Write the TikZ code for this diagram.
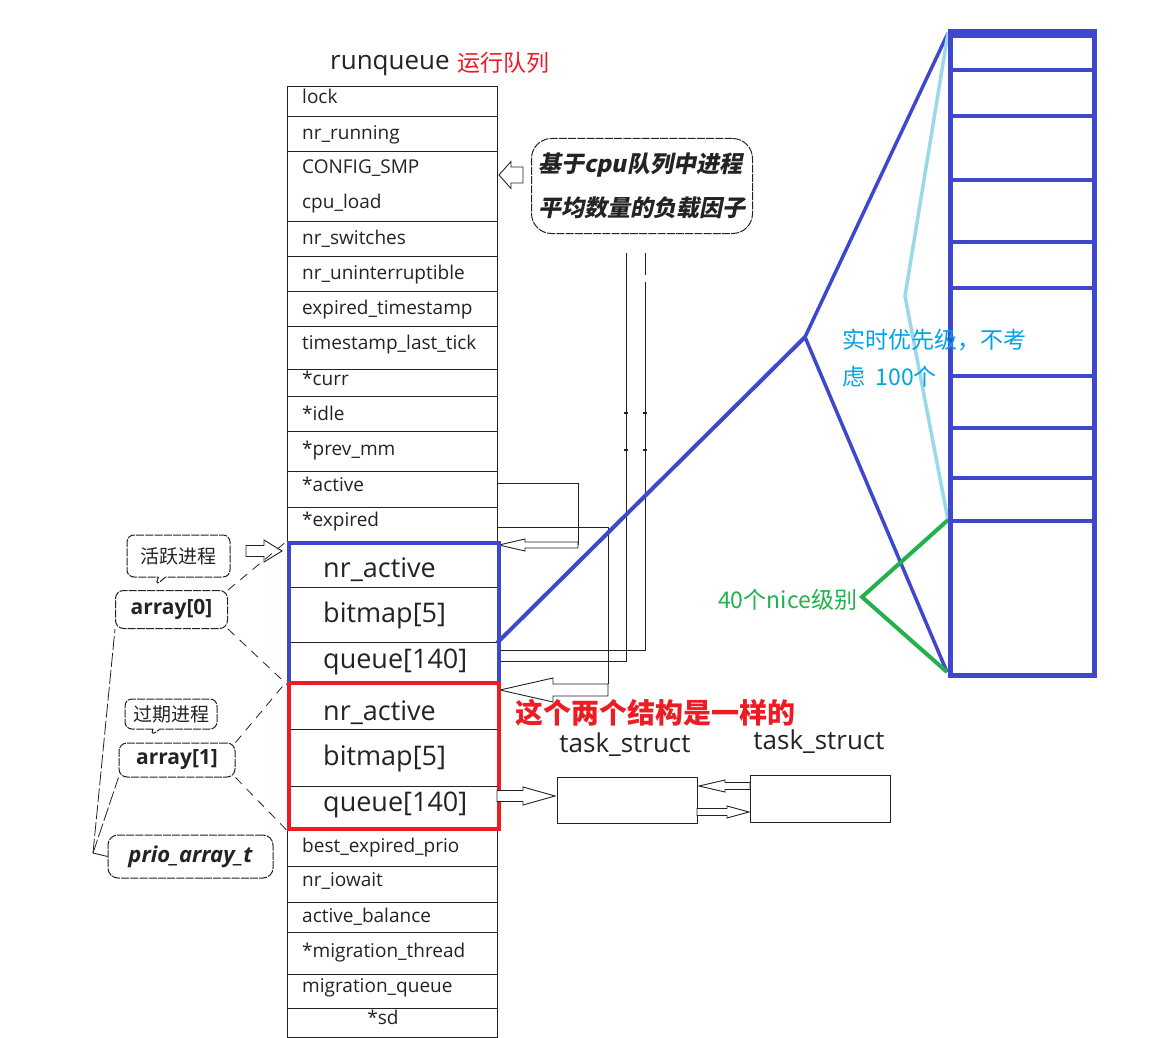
\documentclass[tikz,border=0pt]{standalone}
\usepackage{fontspec}
\setmainfont{Open Sans}
\newfontfamily\cjk{Noto Sans CJK SC}
\newfontfamily\cjkbi{Noto Sans CJK SC}[BoldFeatures={FakeSlant=0.2}]
\usetikzlibrary{calc,shapes.callouts}
\definecolor{rqblue}{RGB}{63,72,204}
\definecolor{rqred}{RGB}{237,28,36}
\definecolor{rqgreen}{RGB}{34,177,76}
\definecolor{lightline}{RGB}{153,217,234}
\definecolor{skytext}{RGB}{0,162,232}
\definecolor{ink}{RGB}{35,35,35}
% hollow horizontal block arrow: from, to, half body, half head, head length
\newcommand\hollowarrow[5]{%
  \draw[harrow] let \p1=(#1), \p2=(#2), \n1={sign(\x2-\x1)} in
    (\x1,\y1+#3pt) -- (\x2-\n1*#5pt,\y1+#3pt) -- (\x2-\n1*#5pt,\y1+#4pt)
    -- (\x2,\y1) -- (\x2-\n1*#5pt,\y1-#4pt) -- (\x2-\n1*#5pt,\y1-#3pt)
    -- (\x1,\y1-#3pt) -- cycle;}
\tikzset{
  cell/.style={draw=ink, line width=0.9pt, minimum width=210pt, inner sep=0pt},
  lbl/.style={anchor=base west, inner sep=0pt, text=ink, font=\fontsize{19}{22}\selectfont},
  biglbl/.style={anchor=base west, inner sep=0pt, text=ink, font=\fontsize{27}{30}\selectfont},
  harrow/.style={draw=ink, line width=0.9pt, fill=white, line join=miter},
  conn/.style={draw=ink, line width=0.9pt},
  ragged/.style={draw=ink, line width=1pt, dash pattern=on 8pt off 1.2pt},
  leader/.style={draw=ink, line width=0.8pt, dash pattern=on 9pt off 7pt},
  longdash/.style={draw=ink, line width=0.8pt, dash pattern=on 14pt off 3pt},
  fatblue/.style={draw=rqblue, line width=5pt},
}
\begin{document}
\begin{tikzpicture}[x=1pt,y=-1pt]
\useasboundingbox (0,0) rectangle (1162,1038);
\fill[white] (0,0) rectangle (1162,1038);

% ---------------- title ----------------
\node[anchor=base west, inner sep=0pt, text=ink, font=\fontsize{26}{30}\selectfont] (title) at (330,70) {runqueue};
\node[anchor=base west, inner sep=0pt, text=rqred, font={\cjk\fontsize{23}{26}\selectfont}] (titlecn) at (457,72) {运行队列};

% ---------------- runqueue cells ----------------
\foreach \t/\b [count=\i] in {86/116,116/151,151/221,221/256,256/291,291/326,326/369,369/396,396/431,431/471,471/507,507/541,541/587,587/642,642/681,681/729,729/786,786/827,827/866,866/902,902/932,932/974,974/1008,1008/1037}
  \node[cell, minimum height=\b-\t, anchor=north west] (c\i) at (287,\t) {};

\node[lbl] (llock) at (302,104) {lock};
\node[lbl] (lrun) at (302,140) {nr\_running};
\node[lbl] (lsmp) at (302,173) {CONFIG\_SMP};
\node[lbl] (lload) at (302,208) {cpu\_load};
\node[lbl] (lsw) at (302,244) {nr\_switches};
\node[lbl] (lunint) at (302,279) {nr\_uninterruptible};
\node[lbl] (lexpts) at (302,314) {expired\_timestamp};
\node[lbl] (lts) at (302,349) {timestamp\_last\_tick};
\node[lbl] (lcurr) at (302,385) {*curr};
\node[lbl] (lidle) at (302,420) {*idle};
\node[lbl] (lprev) at (302,455) {*prev\_mm};
\node[lbl] (lact) at (302,491) {*active};
\node[lbl] (lexp) at (302,526) {*expired};
\node[lbl] (lbest) at (302,852) {best\_expired\_prio};
\node[lbl] (liow) at (302,886) {nr\_iowait};
\node[lbl] (lbal) at (302,922) {active\_balance};
\node[lbl] (lmig) at (302,957) {*migration\_thread};
\node[lbl] (lmq) at (302,992) {migration\_queue};
\node[lbl, anchor=base] (lsd) at (383,1024) {*sd};

\node[biglbl] (a0nr) at (323,577) {nr\_active};
\node[biglbl] (a0bm) at (323,622) {bitmap[5]};
\node[biglbl] (a0q) at (323,668) {queue[140]};
\node[biglbl] (a1nr) at (323,720) {nr\_active};
\node[biglbl] (a1bm) at (323,765) {bitmap[5]};
\node[biglbl] (a1q) at (323,811) {queue[140]};

% ---------------- connectors of *active / *expired / queue ----------------
\coordinate (actR) at (497,483);
\coordinate (actT) at (578,483);
\coordinate (actB) at (578,545);
\coordinate (actTip) at (499,545);
\draw[conn] (actR) -- (actT) -- (actB);
\hollowarrow{actB}{actTip}{3}{6}{26}

\coordinate (expR) at (497,527);
\coordinate (expK) at (608,527);
\coordinate (expB) at (608,684);
\coordinate (expA) at (608,690);
\coordinate (expTip) at (500,690);
\draw[conn] (expR) -- (expK) -- (expB);
\hollowarrow{expA}{expTip}{6}{12}{53}

\coordinate (q1) at (497,650);
\coordinate (q1c) at (645,650);
\coordinate (q1t) at (645,282);
\coordinate (q1g) at (645,275);
\coordinate (q1top) at (645,253);
\coordinate (q2) at (497,661);
\coordinate (q2c) at (626,661);
\coordinate (q2top) at (626,253);
\draw[conn] (q1) -- (q1c) -- (q1t);
\draw[conn] (q1g) -- (q1top);
\draw[conn] (q2) -- (q2c) -- (q2top);
\foreach \yy in {413,450}{
  \draw[conn, line width=1.6pt] (624,\yy) -- (628,\yy);
  \draw[conn, line width=1.6pt] (643,\yy) -- (647,\yy);
}

% ---------------- highlighted arrays ----------------
\node[draw=rqblue, line width=3.5pt, minimum width=210pt, minimum height=140pt, anchor=north west, inner sep=0pt] (abox) at (287,541) {};
\node[draw=rqred, line width=3.5pt, minimum width=210pt, minimum height=146pt, anchor=north west, inner sep=0pt] (ebox) at (287,681) {};

% ---------------- callout: load factor ----------------
\node[ragged, rounded corners=20pt, minimum width=221pt, minimum height=95pt, align=left, inner sep=0pt,
      font={\cjkbi\bfseries\fontsize{23}{44}\selectfont}, text=ink, fill=white] (cb) at (642,186)
      {基于cpu队列中进程\\平均数量的负载因子};
\coordinate (cbA) at (523,175);
\coordinate (cbTip) at (499,175);
\hollowarrow{cbA}{cbTip}{8}{13.5}{12}

% ---------------- left notes ----------------
\node[rectangle callout, ragged, rounded corners=7pt, minimum width=103pt, minimum height=42pt, inner sep=0pt,
      callout absolute pointer={(155,586)}, font={\cjk\fontsize{19}{22}\selectfont}, text=ink] (hy) at (178.5,556) {活跃进程};
\node[ragged, rounded corners=8pt, minimum width=112pt, minimum height=38pt, inner sep=0pt,
      font={\bfseries\fontsize{21}{24}\selectfont}, text=ink] (a0) at (171.5,609.5) {array[0]};
\node[rectangle callout, ragged, rounded corners=7pt, minimum width=92pt, minimum height=30pt, inner sep=0pt,
      callout absolute pointer={(150,736)}, font={\cjk\fontsize{19}{22}\selectfont}, text=ink] (gq) at (171,714) {过期进程};
\node[ragged, rounded corners=8pt, minimum width=116pt, minimum height=34pt, inner sep=0pt,
      font={\bfseries\fontsize{21}{24}\selectfont}, text=ink] (a1) at (177,760) {array[1]};
\node[ragged, rounded corners=10pt, minimum width=165pt, minimum height=43pt, inner sep=0pt,
      font={\bfseries\itshape\fontsize{22}{25}\selectfont}, text=ink] (prio) at (190.5,856.5) {prio\_array\_t};

\coordinate (hyA) at (246,551);
\coordinate (hyTip) at (282,551);
\hollowarrow{hyA}{hyTip}{5.5}{11}{18}

\draw[leader] (a0.north east) -- (abox.north west);
\draw[leader] (a0.south east) -- (abox.south west);
\draw[leader] (a1.north east) -- (ebox.north west);
\draw[leader] (a1.south east) -- (ebox.south west);

\coordinate (pj) at (93,853);
\draw[conn] (prio.west) -- (pj);
\draw[longdash] (pj) -- (a0.south west);
\draw[longdash] (pj) -- (a1.south west);

% ---------------- task_struct ----------------
\node[text=rqred, font={\cjk\bfseries\fontsize{28}{30}\selectfont}, inner sep=0pt] (same) at (655,713) {这个两个结构是一样的};
\node[font=\fontsize{26}{30}\selectfont, text=ink, inner sep=0pt] (ts1l) at (625,745) {task\_struct};
\node[font=\fontsize{26}{30}\selectfont, text=ink, inner sep=0pt] (ts2l) at (819,742) {task\_struct};
\node[draw=ink, line width=0.9pt, minimum width=140pt, minimum height=46pt, anchor=north west, inner sep=0pt] (t1) at (557,777) {};
\node[draw=ink, line width=0.9pt, minimum width=140pt, minimum height=47pt, anchor=north west, inner sep=0pt] (t2) at (750,775) {};

\coordinate (rq) at (497,796);
\coordinate (rqTip) at (555,796);
\hollowarrow{rq}{rqTip}{5.5}{9}{32}
\coordinate (tu2) at (750,786);
\coordinate (tu1) at (699,786);
\hollowarrow{tu2}{tu1}{3.5}{6}{26}
\coordinate (td1) at (697,812);
\coordinate (td2) at (749,812);
\hollowarrow{td1}{td2}{3.5}{6}{22}

% ---------------- priority column ----------------
\coordinate (blueQ) at (497,643);
\coordinate (apex) at (805,337);
\coordinate (colTL) at (948,33);
\coordinate (colBL) at (947,672);
\coordinate (lbMid) at (905,296);
\coordinate (lbEnd) at (948,520);
\coordinate (grMid) at (862,597);

\draw[draw=rqblue, line width=4pt] (blueQ) -- (apex);
\draw[draw=rqblue, line width=3.5pt] (apex) -- (colTL);
\draw[draw=rqblue, line width=3.5pt] (apex) -- (colBL);
\draw[draw=lightline, line width=3.5pt] (colTL) -- (lbMid) -- (lbEnd);
\draw[draw=rqgreen, line width=4pt] (lbEnd) -- (grMid) -- (colBL);

\node[fatblue, minimum width=144pt, minimum height=640pt, anchor=north west, inner sep=0pt] (col) at (948,33) {};
\draw[draw=rqblue, line width=8pt] (col.north west) -- (col.north east);
\foreach \yy in {70,116,180,242,288,376,428,478,521}
  \draw[draw=rqblue, line width=4.5pt] (948,\yy) -- (1092,\yy);

\node[anchor=west, inner sep=0pt, text=skytext, font={\cjk\fontsize{23}{26}\selectfont}] (rt1) at (842,340) {实时优先级，不考};
\node[anchor=west, inner sep=0pt, text=skytext, font={\cjk\fontsize{23}{26}\selectfont}] (rt2) at (842,377) {虑\ \ 100个};
\node[anchor=west, inner sep=0pt, text=rqgreen, font={\cjk\fontsize{23}{26}\selectfont}] (nice) at (718,600) {40个nice级别};
\end{tikzpicture}
\end{document}
